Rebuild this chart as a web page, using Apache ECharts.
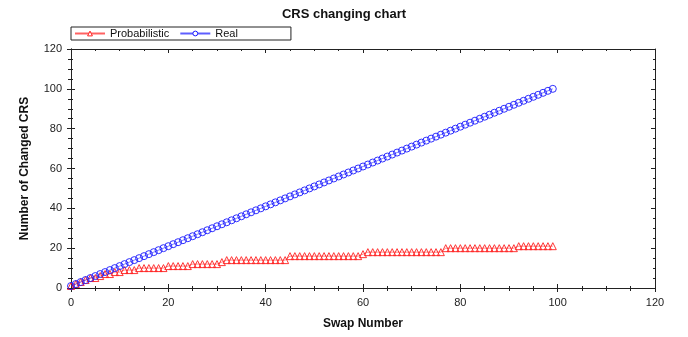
<!DOCTYPE html>
<html>
<head>
<meta charset="utf-8">
<script src="https://cdn.jsdelivr.net/npm/echarts@6/dist/echarts.min.js"></script>
<style>
  html, body { margin: 0; padding: 0; background: #fff; }
  #main { width: 688px; height: 337px; }
</style>
</head>
<body>
<div id="main"></div>
<script>
// values, index = swap number (0..99)
const probabilistic = [
  1, 2, 3, 4, 5, 5, 6, 7, 7, 8,
  8, 9, 9, 9, 10, 10, 10, 10, 10, 10,
  11, 11, 11, 11, 11, 12, 12, 12, 12, 12,
  12, 13, 14, 14, 14, 14, 14, 14, 14, 14,
  14, 14, 14, 14, 14, 16, 16, 16, 16, 16,
  16, 16, 16, 16, 16, 16, 16, 16, 16, 16,
  17, 18, 18, 18, 18, 18, 18, 18, 18, 18,
  18, 18, 18, 18, 18, 18, 18, 20, 20, 20,
  20, 20, 20, 20, 20, 20, 20, 20, 20, 20,
  20, 20, 21, 21, 21, 21, 21, 21, 21, 21
]
const real = [
  1, 2, 3, 4, 5, 6, 7, 8, 9, 10,
  11, 12, 13, 14, 15, 16, 17, 18, 19, 20,
  21, 22, 23, 24, 25, 26, 27, 28, 29, 30,
  31, 32, 33, 34, 35, 36, 37, 38, 39, 40,
  41, 42, 43, 44, 45, 46, 47, 48, 49, 50,
  51, 52, 53, 54, 55, 56, 57, 58, 59, 60,
  61, 62, 63, 64, 65, 66, 67, 68, 69, 70,
  71, 72, 73, 74, 75, 76, 77, 78, 79, 80,
  81, 82, 83, 84, 85, 86, 87, 88, 89, 90,
  91, 92, 93, 94, 95, 96, 97, 98, 99, 100
]
const seriesNames = ['Probabilistic', 'Real']

const myChart = echarts.init(document.getElementById('main'))

const font = 'Liberation Sans, Arial, sans-serif'
const axisColor = '#222'

// shared axis look: box frame with ticks, no grid lines
function frameAxis(extra) {
  return Object.assign({
    type: 'value',
    min: 0,
    max: 120,
    interval: 20,
    axisLine: { show: true, onZero: false, lineStyle: { color: axisColor, width: 1 } },
    splitLine: { show: false },
    axisLabel: { show: false },
    axisTick: { show: true, inside: true, length: 4, lineStyle: { color: axisColor } },
    minorTick: { show: true, splitNumber: 4, length: 2, lineStyle: { color: axisColor } }
  }, extra)
}

// hollow markers without white fill, so overlapping outlines stay visible
function lineSeries(name, values, symbol, color) {
  return {
    name: name,
    type: 'line',
    data: values.map((v, i) => [i, v]),
    symbol: symbol,
    symbolSize: 7,
    color: color,
    lineStyle: { width: 0.8, color: color, opacity: 0.7 },
    itemStyle: { color: 'rgba(255,255,255,0)', borderColor: color, borderWidth: 0.9 }
  }
}

const option = {
  animation: false,
  backgroundColor: '#fff',
  title: {
    text: 'CRS changing chart',
    left: 'center',
    top: 3,
    textStyle: { fontFamily: font, fontSize: 13, fontWeight: 'bold', color: '#111' }
  },
  legend: {
    left: 71,
    top: 27,
    orient: 'horizontal',
    data: seriesNames,
    itemWidth: 30,
    itemHeight: 6,
    itemGap: 10,
    itemStyle: { color: '#fff', borderWidth: 1 },
    borderColor: '#222',
    borderWidth: 1,
    borderRadius: 0,
    padding: [1, 53, 1, 3],
    textStyle: { fontFamily: font, fontSize: 11, color: '#111' }
  },
  grid: { left: 71, right: 33, top: 49, bottom: 49 },
  xAxis: [
    frameAxis({
      position: 'bottom',
      name: 'Swap Number',
      nameLocation: 'middle',
      nameGap: 30,
      nameTextStyle: { fontFamily: font, fontSize: 12, fontWeight: 'bold', color: '#111' },
      axisLabel: { show: true, fontFamily: font, fontSize: 11, color: '#222', margin: 9 },
      axisTick: { show: true, inside: false, length: 4, lineStyle: { color: axisColor } },
      minorTick: { show: true, splitNumber: 4, length: 3, lineStyle: { color: axisColor } }
    }),
    frameAxis({ position: 'bottom' }),
    frameAxis({ position: 'top' })
  ],
  yAxis: [
    frameAxis({
      position: 'left',
      name: 'Number of Changed CRS',
      nameLocation: 'middle',
      nameGap: 40,
      nameTextStyle: { fontFamily: font, fontSize: 12, fontWeight: 'bold', color: '#111' },
      axisLabel: { show: true, fontFamily: font, fontSize: 11, color: '#222', margin: 9 },
      axisTick: { show: true, inside: false, length: 4, lineStyle: { color: axisColor } },
      minorTick: { show: true, splitNumber: 4, length: 3, lineStyle: { color: axisColor } }
    }),
    frameAxis({ position: 'left' }),
    frameAxis({ position: 'right' })
  ],
  series: [
    lineSeries(seriesNames[0], probabilistic, 'triangle', '#ff2020'),
    lineSeries(seriesNames[1], real, 'circle', '#1a1aff')
  ]
}

myChart.setOption(option)
</script>
</body>
</html>
